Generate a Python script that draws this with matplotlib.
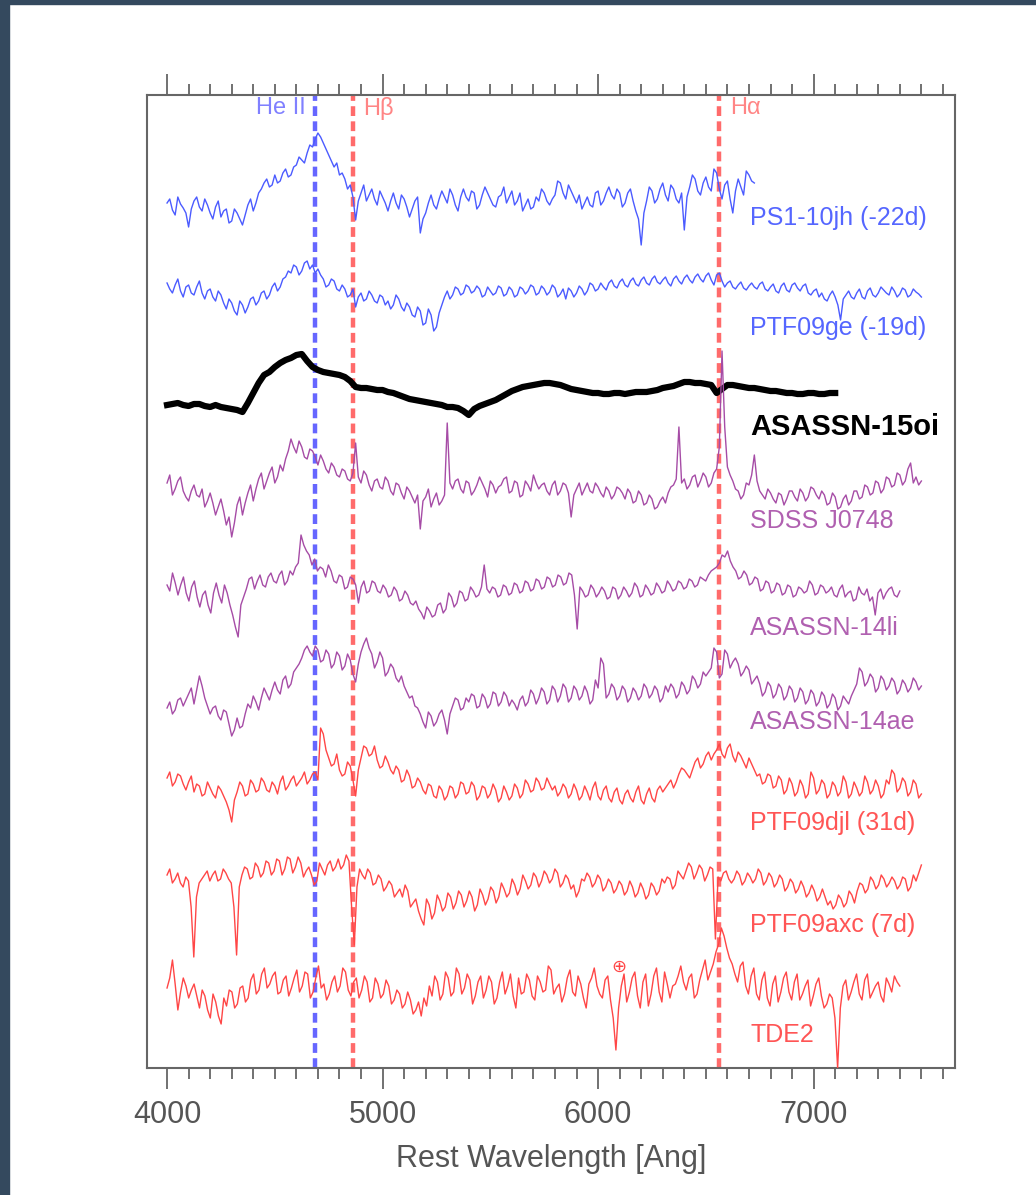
import numpy as np
import matplotlib
matplotlib.use("Agg")
import matplotlib.pyplot as plt
from matplotlib.ticker import MultipleLocator
from matplotlib.patches import Rectangle

plt.rcParams['font.family'] = ['Liberation Sans', 'DejaVu Sans']

# ---------------- data (relative flux, arbitrary units; evenly sampled between start/end) ----------------
ps1_flux = [2, 6, -5, -10, 8, 1, -3, -8, -22, -4, 4, 8, -2, -6, 6, 0, -8, -14, -2, 4, -12, -6, -4, -18,
            -16, -4, -8, -14, -20, -10, 0, 6, -6, 2, 12, 16, 22, 26, 18, 20, 30, 22, 24, 32, 36, 28, 30,
            38, 40, 48, 45, 42, 52, 60, 58, 66, 72, 68, 62, 56, 50, 44, 38, 42, 30, 32, 26, 16, 20, 8,
            -15, 4, 12, 20, 4, 10, 16, 6, 0, 14, 8, 2, -6, 4, 12, 2, -4, 10, 6, -2, -12, -4, 4, 8, -28,
            -14, -8, 2, 10, 0, -4, 6, 14, 8, 2, 16, 10, 0, -6, 8, 16, 8, 4, 14, 12, -4, 0, 10, 18, 12, 6,
            0, -2, 8, 10, 18, 2, 8, 14, 0, 4, 12, -6, 0, 6, -4, -2, 8, 4, 16, 12, 4, 0, 6, 10, 24, 22,
            12, 6, 20, 14, 8, 2, 10, -4, 2, 8, 0, -2, 12, 14, 0, 4, 12, 18, 10, 6, 16, 12, -2, 2, 12, 16,
            4, -6, -14, -40, -8, 4, 18, 14, 2, 6, 16, 22, 10, 4, 20, 16, 6, 2, 12, -25, 8, 18, 30, 26,
            14, 10, 22, 28, 18, 14, 36, 32, 16, 6, 20, 24, 6, -8, 14, 26, 18, 10, 34, 30, 24, 22]

ptf09ge_flux = [2, -4, -8, 0, 6, -6, -12, -2, 0, -8, -10, -2, 4, -8, -14, -6, -4, -12, -16, -6, -10,
                -18, -24, -14, -18, -26, -30, -16, -20, -28, -22, -14, -12, -20, -16, -8, -6, -14, -10,
                -2, 2, -6, -2, 6, 8, 14, 12, 20, 18, 10, 14, 22, 24, 16, 20, 12, 16, 10, 6, -2, 0, 6, 4,
                -4, -6, 0, -4, -12, -10, -4, -22, -12, -8, -16, -14, -6, -10, -16, -18, -10, -12, -20,
                -16, -24, -20, -10, -14, -22, -26, -18, -22, -30, -32, -22, -26, -40, -38, -24, -30, -46,
                -42, -28, -20, -12, -6, -14, -10, -2, -4, -10, -8, 0, -2, -8, -6, -1, -4, -12, -10, -2,
                -6, -10, -8, -1, -3, -11, -9, -2, -5, -12, -10, -2, -4, -9, -6, 0, -2, -10, -8, -1, -4,
                -10, -7, 0, -3, -12, -9, -4, -14, -3, -6, -12, -8, -1, -4, -10, -6, 2, 0, -6, -4, 2, -2,
                -5, 2, 5, -1, -3, 3, 6, 0, -2, 4, 7, 1, -1, 5, 8, 2, 0, 6, 9, 3, 1, 5, 8, 2, -1, 6, 9, 4,
                1, 7, 10, 5, 2, 8, 11, 6, 3, 9, 12, 5, 0, 10, 12, 4, -2, 2, 4, -2, -4, 0, 3, -3, -5, -1,
                2, -2, -4, 1, 3, -4, -6, -2, 1, -6, -8, -1, 2, -5, -7, 0, 2, -3, -6, -1, 1, -8, -10, -6,
                -4, -12, -8, -14, -16, -10, -6, -12, -20, -35, -14, -10, -6, -12, -14, -8, -4, -12, -14,
                -6, -3, -10, -12, -8, -2, -5, -8, -10, -2, -6, -12, -9, -3, -5, -12, -10, -4, -7, -9, -12]

asassn15oi_flux = [0, 1, 2, 0, -1, 1, 1, -1, -2, 0, -2, -3, -4, -5, -7, 2, 12, 22, 30, 33, 38, 42, 45,
                   47, 50, 51, 44, 38, 35, 33, 32, 31, 30, 28, 24, 18, 17, 17, 16, 15, 15, 13, 12, 10,
                   8, 6, 5, 4, 3, 2, 1, 0, -2, -2, -3, -6, -10, -4, -1, 1, 3, 5, 8, 11, 14, 16, 18, 19,
                   20, 21, 22, 22, 21, 20, 18, 16, 15, 14, 13, 12, 12, 11, 11, 12, 12, 11, 12, 13, 13,
                   13, 14, 15, 17, 18, 19, 21, 23, 23, 22, 22, 21, 20, 12, 16, 20, 20, 19, 18, 17, 17,
                   16, 15, 14, 14, 13, 12, 12, 11, 11, 12, 12, 11, 11, 12, 12]

sdss_flux = [4, 12, -8, -2, 6, 10, -4, -10, -14, -4, 2, -8, -10, -2, -20, -14, -6, -16, -28, -20, -12,
             -24, -38, -30, -50, -36, -18, -10, -28, -16, -6, 2, -14, -2, 8, 14, -2, 6, 14, 20, 4, 10,
             22, 16, 28, 36, 48, 40, 34, 46, 40, 30, 28, 38, 36, 30, 22, 32, 26, 18, 14, 24, 20, 12, 10,
             18, 16, 8, 6, 14, 44, 10, 4, 16, 12, 2, -4, 6, 8, 0, -2, 10, 6, -4, -8, 4, 2, -6, -12, 0,
             -4, -10, -16, -8, -42, -14, -10, -2, -20, -12, -6, -18, -14, -8, 64, 4, -2, 6, 8, -2, -6, 6,
             4, -8, -4, 2, 10, 4, -2, -10, 6, 2, -6, 0, 2, 8, 10, -6, -4, 6, 4, -10, -8, 6, 2, -4, 12, 4,
             -2, 2, 4, -4, -8, 2, 6, -8, -4, 4, 2, -6, -30, -8, -2, 4, -8, -2, 4, -4, -6, 4, 0, -6, -10,
             0, -4, -12, -8, 0, -2, -6, -12, -2, -6, -16, -14, -4, -8, -18, -16, -8, -12, -22, -20, -14,
             -10, -16, -6, 0, 2, 8, 60, 4, 8, -2, 2, 10, 12, 0, 6, 14, 10, 0, 4, 14, 18, 40, 136, 60, 20,
             12, 6, -2, -4, -12, -8, 4, 2, 12, 32, 6, -4, -8, -12, -2, -6, -12, -16, -6, -8, -18, -12, -4,
             -4, -10, -14, -2, -6, -14, -10, 0, -2, -8, -12, -4, -8, -18, -16, -6, -10, -22, -20, -12, -8,
             -18, -14, -4, -4, -12, -10, 2, 0, -8, -6, 6, 4, -6, -2, 10, 8, 0, 2, 14, 12, 2, 6, 18, 24, 4,
             10, 2, 6]

asassn14li_flux = [0, -6, 12, 2, -10, 0, 8, -8, -16, -2, 4, -12, -22, -10, -6, -20, -28, -8, 2, -10, -18,
                   0, -8, -20, -30, -42, -52, -20, -12, -4, 6, 8, -4, 4, 10, 0, -2, 8, 12, 4, 2, 10, 14,
                   0, 4, 14, 10, 18, 22, 50, 40, 34, 30, 20, 26, 14, 18, 16, 8, 20, 14, 4, 2, 10, 8, -4,
                   -2, 8, 6, 0, -18, -2, 4, -8, -6, 4, 2, -6, -8, 0, -4, -12, -10, -2, -6, -16, -14, -6,
                   -10, -18, -20, -16, -24, -28, -34, -22, -26, -32, -30, -20, -18, -28, -24, -8, -12,
                   -22, -18, -6, -8, -16, -14, -2, -6, -12, -10, -2, 20, -4, -8, -2, -4, -12, -10, 0, -2,
                   -10, -8, 2, 0, -8, -6, 4, 2, -6, -4, 6, 4, -4, -2, 8, 6, -2, 0, 10, 8, 0, 2, 12, 10,
                   -10, -44, -2, -6, -12, -10, 0, -4, -12, -8, -2, -6, -14, -12, -2, -4, -14, -10, -2, -6,
                   -12, -8, 2, -2, -12, -10, 0, -4, -10, -8, 2, -2, -8, -6, 4, 0, -6, -4, 4, 2, -4, -2, 6,
                   4, -2, 0, 8, 6, 4, 10, 14, 16, 18, 22, 30, 28, 34, 24, 18, 14, 6, 8, 14, 10, 0, 2, 8, 6,
                   -6, -4, 4, 2, -8, -6, 2, 0, -10, -8, 0, -2, -12, -10, -2, -4, -8, -6, 4, 0, -10, -8, 0,
                   -2, -8, -6, -2, -10, -12, -4, 0, -12, -8, -6, -16, -14, -2, -8, -10, -4, -16, -12, -30,
                   -8, -4, -14, -8, -4, -2, -10, -12, -6]

asassn14ae_flux = [0, 6, -6, -2, 8, 10, 2, 8, 14, 20, 4, 18, 32, 22, 10, 2, -6, 0, 2, -8, -12, -2, -4, -16,
                   -28, -22, -10, -20, -18, -6, 4, 0, 12, 6, -2, 10, 20, 14, 8, 18, 26, 18, 14, 28, 32, 20,
                   24, 36, 40, 44, 50, 58, 62, 56, 52, 62, 58, 46, 48, 58, 54, 40, 44, 56, 52, 38, 42, 54,
                   48, 34, 26, 44, 56, 64, 70, 60, 54, 40, 46, 56, 50, 32, 36, 44, 40, 30, 26, 32, 22, 16,
                   10, 12, 2, 0, -6, -14, -20, -4, -8, -18, -14, -6, -2, -12, -26, -6, 2, 10, 8, -2, 0, 10,
                   6, 14, 12, 0, 2, 14, 10, 0, 4, 16, 14, 2, 6, 16, 12, 2, 8, 4, -2, 8, 12, 2, 6, 18, 14, 4,
                   10, 20, 16, 4, 8, 22, 18, 6, 12, 24, 20, 6, 10, 22, 18, 8, 12, 22, 16, 4, 8, 28, 20, 50,
                   44, 10, 14, 24, 20, 8, 12, 22, 18, 6, 10, 20, 16, 8, 12, 24, 20, 10, 14, 22, 18, 6, 10,
                   22, 16, 24, 20, 10, 14, 26, 22, 14, 18, 32, 28, 20, 24, 36, 32, 36, 40, 60, 56, 30, 34,
                   58, 54, 40, 46, 50, 44, 32, 36, 42, 38, 24, 28, 32, 24, 12, 16, 26, 22, 10, 14, 24, 20,
                   8, 12, 22, 18, 6, 10, 20, 16, 4, 8, 18, 14, 2, 6, 16, 12, 0, 4, 14, 10, -2, 2, 12, 8, 4,
                   12, 18, 24, 40, 36, 22, 26, 34, 30, 16, 20, 32, 28, 18, 22, 30, 26, 14, 18, 28, 24, 16,
                   20, 30, 26, 18, 22]

ptf09djl_flux = [2, 8, -6, -2, 6, 4, -4, -10, -2, 4, -12, -4, -6, -16, -14, -2, -8, -14, -18, -6, -10,
                 -16, -22, -30, -42, -20, -12, -2, -6, -16, -14, 0, -4, -12, -10, 2, -2, -10, -12, -2, -6,
                 -14, -2, 4, -10, -6, 0, 4, -6, -2, 2, 8, -4, 0, 6, 8, 0, 52, 46, 30, 22, 14, 16, 26, 10,
                 4, 6, 18, 14, 0, -16, 10, 22, 34, 32, 24, 26, 34, 20, 12, 14, 24, 18, 10, 6, 14, 10, -2,
                 0, 10, 4, -8, -6, 2, -2, -10, -14, -4, -6, -16, -18, -6, -10, -20, -16, -6, -8, -18, -14,
                 -2, -4, -14, -12, -2, -6, -20, -16, -6, -8, -18, -14, -4, -10, -22, -18, -6, -12, -20,
                 -16, -4, -8, -18, -14, 0, -4, -12, -10, 2, -2, -10, -8, 2, -4, -10, -6, -16, -12, -4, -8,
                 -18, -14, -4, -10, -20, -16, -6, -12, -20, -8, -2, -16, -20, -10, -6, -18, -22, -12, -8,
                 -20, -24, -14, -10, -18, -22, -12, -6, -20, -24, -14, -8, -18, -22, -10, -6, -12, -8, -4,
                 0, -8, -2, 6, 12, 10, 6, 2, 10, 18, 22, 12, 16, 24, 28, 20, 26, 30, 36, 26, 22, 32, 36,
                 24, 18, 28, 24, 18, 12, 22, 16, 10, 4, 6, -4, -2, 6, 4, -8, -6, 4, 0, -14, -10, 2, -4,
                 -16, -12, 0, -6, -18, -14, 8, 2, -14, -10, 0, -4, -18, -14, -2, -6, -16, -12, 4, -2, -18,
                 -14, -2, -8, -16, -12, 4, -2, -14, -10, 0, -6, -18, -14, 0, -4, 10, 6, -12, -8, 2, -2,
                 -16, -12, 0, -4, -18, -14]

ptf09axc_flux = [2, 8, -6, -2, 4, -6, -10, 0, -4, -30, -80, -20, -6, -2, 2, 6, -4, 2, 6, -4, -2, 8, 4, -2,
                 -6, -30, -78, -10, 2, 10, 8, -2, 0, 14, 10, 0, 4, 16, 14, 2, 6, 18, 16, 2, 8, 20, 18, 4,
                 10, 20, 14, 0, 6, 10, 2, -8, -4, 14, 8, 2, 12, 16, 6, 10, 18, 8, 12, 22, 16, -30, -68,
                 -10, 8, 2, -2, 8, 4, -8, -6, 2, -2, -14, -10, -4, -8, -20, -16, -12, -20, -8, -14, -30,
                 -26, -22, -34, -42, -48, -22, -28, -42, -36, -18, -24, -34, -30, -16, -20, -32, -26, -14,
                 -18, -30, -24, -14, -20, -34, -28, -12, -18, -28, -22, -10, -14, -26, -20, -6, -12, -20,
                 -16, -2, -8, -18, -12, 2, -4, -12, -8, 4, 0, -10, -4, 6, 2, -6, -2, 8, 4, -10, -6, 2, -2,
                 -12, -8, -20, -14, -2, -4, 4, 0, -10, -6, 2, -2, -14, -10, -2, -6, -16, -12, -4, -8, -18,
                 -14, -4, -10, -20, -16, -6, -12, -22, -18, -6, -10, -18, -14, -2, -6, 0, -2, -12, -8, 6,
                 2, -2, 6, 14, 10, -2, 4, 12, 8, -4, 2, 10, 8, -62, 0, -4, 4, 6, -2, -6, -2, 6, 2, -8, -4,
                 4, 0, -6, -2, 8, 4, -8, -4, 4, 0, -10, -6, 2, -2, -14, -10, -2, -6, -16, -12, -4, -10,
                 -20, -16, -8, -14, -24, -20, -12, -20, -28, -24, -32, -28, -18, -22, -30, -26, -14, -18,
                 -26, -14, -6, -8, -16, -12, 0, -4, -12, -8, 2, -2, -10, -6, 0, -4, -12, -8, 0, -2, -14,
                 -10, 2, -4, 4, 12]

tde2_flux = [0, 10, 28, 4, -22, -4, 10, 2, -10, -2, 4, -8, -20, -2, -8, -22, -30, -6, -14, -28, -36, -10,
             -18, -2, -4, -20, -16, 0, 2, -14, -10, 8, 14, -6, -2, 14, 20, 0, 4, 12, 16, -6, -4, 8, 12,
             -8, 0, 10, 18, -4, 2, 16, 14, -10, -4, 10, 22, 0, 4, -12, -6, 6, 12, -4, 2, 20, 16, -2, -8,
             6, 10, -10, -2, 12, 6, -14, -10, 10, 4, -10, -6, 8, 2, -16, -12, -2, -6, -20, -16, -4, -12,
             -26, -22, -14, -28, -10, -18, 2, -8, 12, 6, -12, -6, 16, 10, -8, -4, 20, 14, -6, 0, 14, 8,
             -16, -8, 6, 12, -10, -2, 12, 6, -16, -10, 6, 16, -6, 2, 14, -8, -20, 10, -6, -4, 14, 8, -8,
             -12, 12, 6, -4, -2, 22, 18, -6, 0, 4, -14, -6, 10, 18, -4, -8, 12, 4, -10, -20, 4, 10, 20,
             2, -6, -10, 8, 12, -12, -30, -62, -20, 2, 14, -14, -4, 10, 16, -8, -20, 6, 14, -18, -6, 12,
             20, -4, -14, 16, 4, -10, 2, 4, 12, 22, 6, -2, 10, 14, -10, -6, 8, 18, 28, 8, 16, 24, 36, 44,
             60, 52, 40, 30, 24, 14, 6, 22, 26, 2, -6, 12, 20, -6, -12, 8, 16, -10, -18, 4, 12, -14, -4,
             10, 16, -4, -12, 6, 14, -12, -6, 2, 8, -18, -8, 4, 10, -8, -20, -16, -6, -10, -30, -80, -20,
             2, 8, -12, -4, 6, 14, -6, -12, 8, 14, -10, -4, 2, 6, -8, -14, 10, 4, -4, 12, 6, 2]

names = ['PS1-10jh (-22d)', 'PTF09ge (-19d)', 'ASASSN-15oi', 'SDSS J0748',
         'ASASSN-14li', 'ASASSN-14ae', 'PTF09djl (31d)', 'PTF09axc (7d)', 'TDE2']
fluxes = [ps1_flux, ptf09ge_flux, asassn15oi_flux, sdss_flux, asassn14li_flux,
          asassn14ae_flux, ptf09djl_flux, ptf09axc_flux, tde2_flux]
wave_start = [4000, 4000, 4000, 4000, 4000, 4000, 4000, 4000, 4000]
wave_end = [6725, 7500, 7100, 7500, 7400, 7500, 7500, 7500, 7400]
offsets = [863, 783, 663, 581, 483, 360, 288, 191, 80]
label_y = [850, 740, 641, 547, 440, 346, 245, 143, 33]

line_names = ['He II', 'H\u03b2', 'H\u03b1']
line_waves = [4686, 4861, 6563]

# ---------------- styles ----------------
blue, purple, red = '#4b5bff', '#a64ca6', '#ff4646'
colors = [blue, blue, 'black', purple, purple, purple, red, red, red]
label_colors = ['#5566ff', '#5566ff', 'black', '#b060b0', '#b060b0', '#b060b0',
                '#ff5555', '#ff5555', '#ff5555']
widths = [1.0, 1.0, 4.5, 1.0, 1.0, 1.0, 1.0, 1.0, 1.0]
line_colors = ['#6666ff', '#ff6b6b', '#ff6b6b']
line_text_colors = ['#8080ff', '#ff8585', '#ff8585']

fig = plt.figure(figsize=(10.36, 11.95), dpi=100)
fig.patch.set_facecolor('white')
ax = fig.add_axes([147/1036, 1 - 1068/1195, 808/1036, 973/1195])

# emission-line markers
for w, c in zip(line_waves, line_colors):
    ax.axvline(w, color=c, lw=3.2, ls=(0, (2.2, 1.2)), zorder=1)

ax.text(4642, 960, line_names[0], color=line_text_colors[0], fontsize=17, ha='right', va='center')
ax.text(4912, 960, line_names[1], color=line_text_colors[1], fontsize=17, ha='left', va='center')
ax.text(6612, 960, line_names[2], color=line_text_colors[2], fontsize=17, ha='left', va='center')

for f, w0, w1, off, c, lw, name, ly, lc in zip(fluxes, wave_start, wave_end, offsets, colors,
                                               widths, names, label_y, label_colors):
    f = np.asarray(f, dtype=float)
    wave = np.linspace(w0, w1, len(f))
    ax.plot(wave, f + off, color=c, lw=lw, zorder=3)
    bold = (name == 'ASASSN-15oi')
    ax.text(6706, ly, name, color=lc, fontsize=21 if bold else 18,
            fontweight='bold' if bold else 'normal', ha='left', va='center', zorder=4)

ax.text(6099, 101, '\u2295', color=red, fontsize=13, ha='center', va='center',
        family='DejaVu Sans')

ax.set_xlim(3907, 7656)
ax.set_ylim(0, 973)

gray = '#666666'
for sp in ax.spines.values():
    sp.set_color(gray)
    sp.set_linewidth(1.5)
ax.set_yticks([])
ax.xaxis.set_major_locator(MultipleLocator(1000))
ax.xaxis.set_minor_locator(MultipleLocator(100))
ax.tick_params(axis='x', which='both', direction='out', top=True, bottom=True,
               color=gray, width=1.3, labelcolor='#555555', labelsize=22, pad=8)
ax.tick_params(axis='x', which='major', length=15)
ax.tick_params(axis='x', which='minor', length=8)
ax.set_xlabel('Rest Wavelength [Ang]', fontsize=22, color='#555555', labelpad=10)

# dark page border (top and left)
fig.patches.append(Rectangle((0, 1 - 4/1195), 1, 4/1195, transform=fig.transFigure,
                             color='#34495e', zorder=10))
fig.patches.append(Rectangle((0, 0), 8.5/1036, 1, transform=fig.transFigure,
                             color='#34495e', zorder=10))

fig.savefig('out.png', dpi=100)
